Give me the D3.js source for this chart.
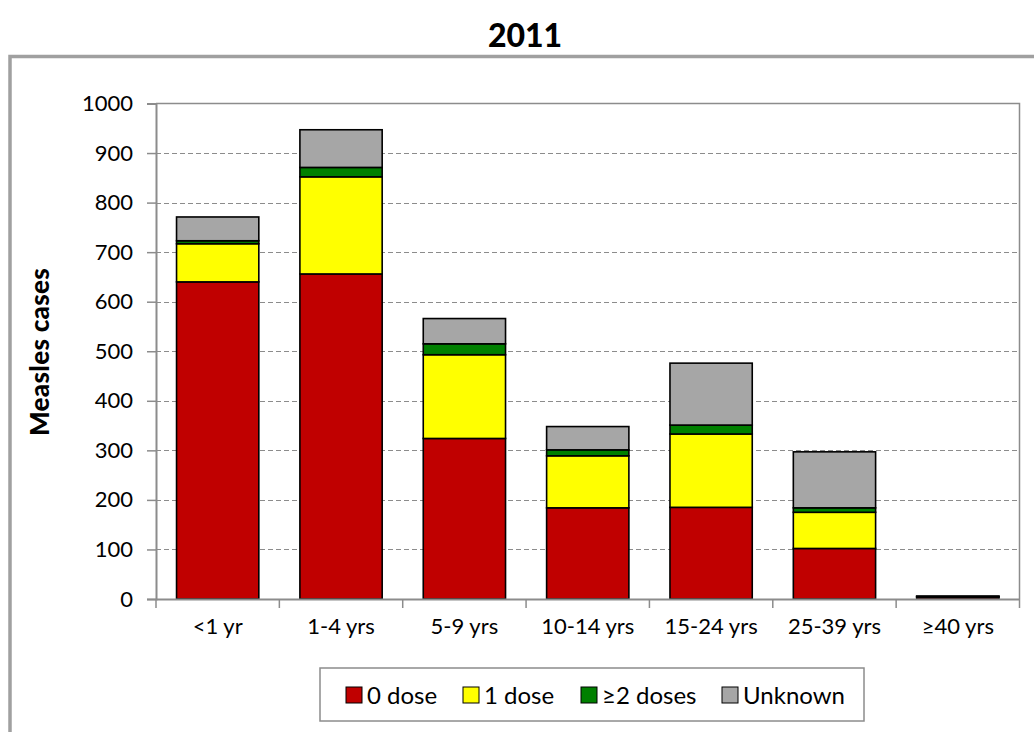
<!DOCTYPE html>
<html>
<head>
<meta charset="utf-8">
<script src="https://cdn.jsdelivr.net/npm/d3@7"></script>
<style>
  html, body { margin: 0; padding: 0; background: #fff; }
  svg { display: block; }
  text { font-family: Lato, "Open Sans", sans-serif; }
</style>
</head>
<body>
<svg id="chart" width="1034" height="732"></svg>
<script>
const categories = ["<1 yr", "1-4 yrs", "5-9 yrs", "10-14 yrs", "15-24 yrs", "25-39 yrs", "≥40 yrs"];
const seriesNames = ["0 dose", "1 dose", "≥2 doses", "Unknown"];
const dose0   = [640, 656, 324, 184, 185, 102, 4];
const dose1   = [77, 196, 169, 105, 148, 73, 1];
const dose2   = [6, 19, 22, 12, 18, 9, 0];
const unknown = [48, 76, 51, 47, 125, 113, 1];
const yTicks  = [0, 100, 200, 300, 400, 500, 600, 700, 800, 900, 1000];
const colors  = ["#C00000", "#FFFF00", "#008000", "#A6A6A6"];

const FONT = "Lato, 'Open Sans', sans-serif";
const rows = categories.map((c, i) => ({
  cat: c, "0 dose": dose0[i], "1 dose": dose1[i], "≥2 doses": dose2[i], "Unknown": unknown[i]
}));

const svg = d3.select("#chart");
const plot = { left: 156, right: 1019.5, top: 103.5, bottom: 599 };

// Outer frame
svg.append("path")
  .attr("d", `M10,732 L10,56.5 L1040,56.5`)
  .attr("fill", "none").attr("stroke", "#A0A0A0").attr("stroke-width", 3.5);

// Title
svg.append("text")
  .attr("x", 525).attr("y", 47)
  .attr("text-anchor", "middle")
  .attr("font-family", FONT)
  .attr("font-size", 32).attr("font-weight", "900")
  .attr("fill", "#000")
  .text("2011");

const x = d3.scaleBand().domain(categories).range([plot.left, plot.right]).paddingInner(0.333).paddingOuter(0.1665);
const xOuter = d3.scaleBand().domain(categories).range([plot.left, plot.right]);
const y = d3.scaleLinear().domain([0, 1000]).range([plot.bottom, plot.top]);

// Gridlines
svg.append("g").selectAll("line")
  .data(yTicks.filter(t => t > 0 && t < 1000))
  .join("line")
  .attr("x1", plot.left).attr("x2", plot.right)
  .attr("y1", d => Math.round(y(d)) + 0.5).attr("y2", d => Math.round(y(d)) + 0.5)
  .attr("stroke", "#8C8C8C").attr("stroke-width", 1)
  .attr("stroke-dasharray", "5,3");

// Plot area border (top & right)
svg.append("path")
  .attr("d", `M${plot.left},${plot.top} L${plot.right},${plot.top} L${plot.right},${plot.bottom}`)
  .attr("fill", "none").attr("stroke", "#8C8C8C").attr("stroke-width", 1.5);

// Y axis
const yAxis = d3.axisLeft(y).tickValues(yTicks).tickSize(9).tickPadding(14).tickFormat(d3.format("d"));
const gy = svg.append("g").attr("transform", `translate(${plot.left},0)`).call(yAxis);
gy.attr("font-family", FONT).attr("font-size", 22);
gy.select(".domain").attr("stroke", "#8C8C8C").attr("stroke-width", 2);
gy.selectAll(".tick line").attr("stroke", "#8C8C8C").attr("stroke-width", 1.5);
gy.selectAll(".tick text").attr("fill", "#000");

// Stacked bars
const stacked = d3.stack().keys(seriesNames)(rows);
svg.append("g").selectAll("g")
  .data(stacked)
  .join("g")
  .attr("fill", (d, i) => colors[i])
  .selectAll("rect")
  .data(d => d.filter(s => s[1] - s[0] > 0))
  .join("rect")
  .attr("x", d => x(d.data.cat))
  .attr("width", x.bandwidth())
  .attr("y", d => y(d[1]))
  .attr("height", d => y(d[0]) - y(d[1]))
  .attr("stroke", "#000").attr("stroke-width", 1.6);

// X axis
const xAxis = d3.axisBottom(xOuter).tickSize(0).tickPadding(24);
const gx = svg.append("g").attr("transform", `translate(0,${plot.bottom})`).call(xAxis);
gx.attr("font-family", FONT).attr("font-size", 22);
gx.select(".domain").attr("stroke", "#8C8C8C").attr("stroke-width", 2);
gx.selectAll(".tick text").attr("fill", "#000").attr("dy", "0.5em");
const boundaries = categories.map(c => xOuter(c)).concat([xOuter(categories[categories.length - 1]) + xOuter.bandwidth()]);
svg.append("g").selectAll("line")
  .data(boundaries)
  .join("line")
  .attr("x1", d => d).attr("x2", d => d)
  .attr("y1", plot.bottom).attr("y2", plot.bottom + 9)
  .attr("stroke", "#8C8C8C").attr("stroke-width", 1.5);

// Y axis title
svg.append("text")
  .attr("transform", `translate(49,352) rotate(-90)`)
  .attr("text-anchor", "middle")
  .attr("font-family", FONT)
  .attr("font-size", 26).attr("font-weight", "900")
  .attr("letter-spacing", 0.3)
  .attr("fill", "#000")
  .text("Measles cases");

// Legend
const legend = svg.append("g");
legend.append("rect")
  .attr("x", 320).attr("y", 668).attr("width", 544).attr("height", 53)
  .attr("fill", "#fff").attr("stroke", "#8C8C8C").attr("stroke-width", 1.5);
const legendX = [346, 463, 581, 722];
const items = legend.selectAll("g.item").data(seriesNames).join("g").attr("class", "item")
  .attr("transform", (d, i) => `translate(${legendX[i]},687)`);
items.append("rect").attr("width", 16).attr("height", 16)
  .attr("fill", (d, i) => colors[i]).attr("stroke", "#000").attr("stroke-width", 1);
items.append("text").attr("x", 21).attr("y", 16.5)
  .attr("font-family", FONT)
  .attr("font-size", 24).attr("fill", "#000").text(d => d);
</script>
</body>
</html>
